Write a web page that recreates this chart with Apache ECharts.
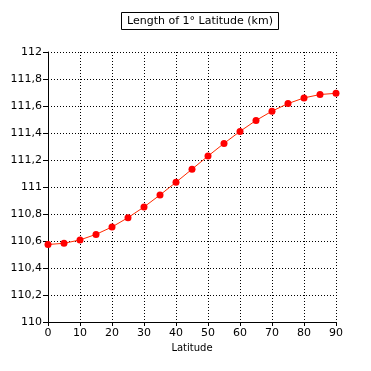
<!DOCTYPE html>
<html><head><meta charset="utf-8">
<script src="https://cdn.jsdelivr.net/npm/echarts@6/dist/echarts.min.js"></script>
<style>html,body{margin:0;padding:0;background:#fff}#c{width:371px;height:371px}</style>
</head><body><div id="c"></div>
<script>
const latitudes = [0,5,10,15,20,25,30,35,40,45,50,55,60,65,70,75,80,85,90];
const lengthKm = [110.574,110.583,110.608,110.649,110.704,110.773,110.852,110.941,111.035,111.132,111.229,111.323,111.412,111.493,111.562,111.618,111.660,111.685,111.694];
const titleText = 'Length of 1° Latitude (km)';
const xName = 'Latitude';

const chart = echarts.init(document.getElementById('c'));
const font = 'DejaVu Sans';
chart.setOption({
  animation:false,
  backgroundColor:'#fff',
  title:{text:titleText,left:121,top:12,padding:[4,6,3,6],borderWidth:1,borderColor:'#000',
    textStyle:{fontFamily:font,fontSize:11,fontWeight:'normal',color:'#000'}},
  grid:{left:48,right:35,top:52,bottom:49},
  xAxis:{type:'value',min:0,max:90,interval:10,name:xName,nameLocation:'middle',nameGap:21,
    nameTextStyle:{fontFamily:font,fontSize:10,color:'#000'},
    axisLine:{lineStyle:{color:'#000',width:1}},
    axisTick:{length:4,lineStyle:{color:'#000'}},
    axisLabel:{fontFamily:font,fontSize:11,color:'#000',margin:6},
    splitLine:{show:true,lineStyle:{color:'#000',type:[1,2],width:1}}},
  yAxis:{type:'value',min:110,max:112,interval:0.2,
    axisLine:{show:true,lineStyle:{color:'#000',width:1}},
    axisTick:{show:true,length:5,lineStyle:{color:'#000'}},
    axisLabel:{fontFamily:font,fontSize:11,color:'#000',margin:6,
      formatter:v=>String(Math.round(v*10)/10).replace('.',',')},
    splitLine:{show:true,lineStyle:{color:'#000',type:[1,2],width:1}}},
  series:[{type:'line',data:latitudes.map((x,i)=>[x,lengthKm[i]]),
    symbol:'circle',symbolSize:7,
    lineStyle:{color:'#ff2a00',width:1},
    itemStyle:{color:'#ff0000'}}]
});
</script></body></html>
